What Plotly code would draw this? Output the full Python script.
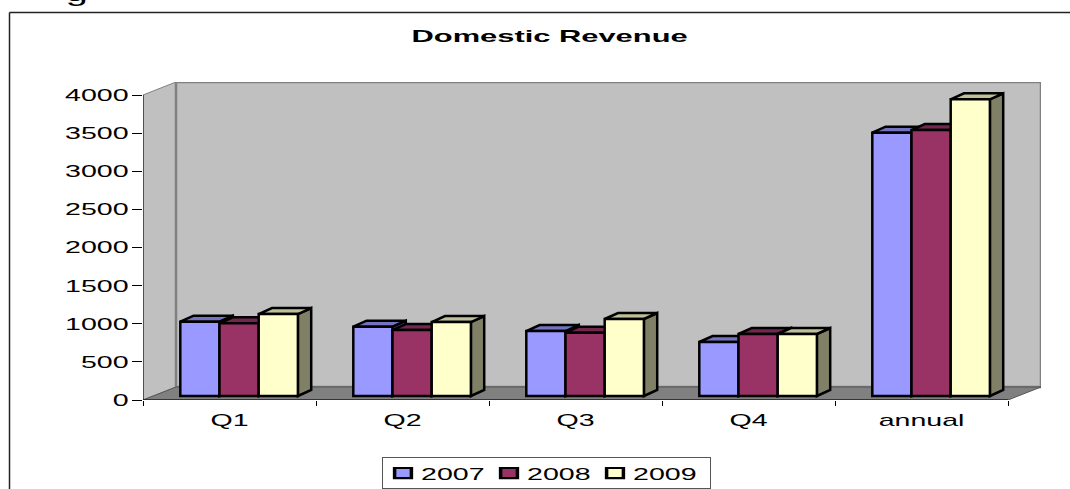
import plotly.graph_objects as go

categories = ["Q1", "Q2", "Q3", "Q4", "annual"]
years = ["2007", "2008", "2009"]
values_2007 = [974, 909, 852, 708, 3453]
values_2008 = [953, 865, 830, 813, 3488]
values_2009 = [1075, 970, 1010, 813, 3891]
y_ticks = [0, 500, 1000, 1500, 2000, 2500, 3000, 3500, 4000]
title_text = "Domestic Revenue"

front_colors = ["#9999FF", "#993366", "#FFFFCC"]
top_colors = ["#7373BF", "#732650", "#BFBF99"]
side_colors = ["#4D4D80", "#4D1933", "#808066"]

W, H = 1070, 489
L, R, T, B = 143, 29, 82, 89
PX_PER_CAT = 173.0
PX_PER_UNIT = 305.0 / 4000.0
plot_w = W - L - R
plot_h = H - T - B

WALL_DX = 33 / PX_PER_CAT
WALL_DY = 13 / PX_PER_UNIT
BAR_W = 39.2 / PX_PER_CAT
BAR_DX = 13.3 / PX_PER_CAT
BAR_DY = 6 / PX_PER_UNIT
BAR_BASE = 4 / PX_PER_UNIT
GROUP_SHIFT = 9.6 / PX_PER_CAT
N = len(categories)
series = [values_2007, values_2008, values_2009]
centers = [i + 0.5 + GROUP_SHIFT for i in range(N)]


def poly(points, fill, line_color, width):
    path = "M" + " L".join(f"{x:.4f},{y:.2f}" for x, y in points) + " Z"
    return dict(type="path", xref="x", yref="y", path=path, fillcolor=fill,
                line=dict(color=line_color, width=width), layer="below")


shapes = []
GRAY = "#808080"
ymax = y_ticks[-1]
shapes.append(poly([(0, 0), (WALL_DX, WALL_DY), (WALL_DX, ymax + WALL_DY), (0, ymax)], "#C0C0C0", GRAY, 1))
shapes.append(poly([(WALL_DX, WALL_DY), (N + WALL_DX, WALL_DY), (N + WALL_DX, ymax + WALL_DY), (WALL_DX, ymax + WALL_DY)], "#C0C0C0", GRAY, 2.5))
shapes.append(poly([(0, 0), (N, 0), (N + WALL_DX, WALL_DY), (WALL_DX, WALL_DY)], GRAY, "#555555", 1))

# depth faces of the bars, painted back to front under the front faces
for s, vals in enumerate(series):
    for c, v in zip(centers, vals):
        x0 = c + (s - 1.5) * BAR_W
        x1 = x0 + BAR_W
        top = BAR_BASE + v
        shapes.append(poly([(x1, BAR_BASE), (x1 + BAR_DX, BAR_BASE + BAR_DY), (x1 + BAR_DX, top + BAR_DY), (x1, top)],
                           side_colors[s], "black", 2.5))
        shapes.append(poly([(x0, top), (x1, top), (x1 + BAR_DX, top + BAR_DY), (x0 + BAR_DX, top + BAR_DY)],
                           top_colors[s], "black", 2.5))

# axis lines
shapes.append(dict(type="line", xref="x", yref="y", x0=0, x1=0, y0=0, y1=ymax, line=dict(color="black", width=1)))
shapes.append(dict(type="line", xref="x", yref="y", x0=0, x1=N, y0=0, y1=0, line=dict(color="black", width=1)))

# chart-area frame (top and left edges)
def px(x):
    return (x - L) / plot_w
def py(y):
    return (H - B - y) / plot_h
shapes.append(dict(type="line", xref="paper", yref="paper", x0=px(9.5), x1=px(W), y0=py(12.5), y1=py(12.5), line=dict(color="#222222", width=1.5)))
shapes.append(dict(type="line", xref="paper", yref="paper", x0=px(9.5), x1=px(9.5), y0=py(12.5), y1=py(H), line=dict(color="#222222", width=1.5)))

fig = go.Figure()
for s, vals in enumerate(series):
    fig.add_trace(go.Bar(
        x=centers, y=vals, base=BAR_BASE, name=years[s],
        marker=dict(color=front_colors[s], line=dict(color="black", width=2.5)),
        hoverinfo="skip",
    ))

FONT = "Liberation Sans, Arial, sans-serif"
fig.update_layout(
    width=W, height=H,
    margin=dict(l=L, r=R, t=T, b=B, pad=0, autoexpand=False),
    paper_bgcolor="white", plot_bgcolor="white",
    barmode="group", bargap=1 - 3 * BAR_W, bargroupgap=0,
    shapes=shapes,
    font=dict(family=FONT, size=17, color="black"),
    xaxis=dict(
        range=[0, N + WALL_DX], showgrid=False, zeroline=False, showline=False,
        tickmode="array", tickvals=[i + 0.5 for i in range(N)], ticktext=categories,
        ticks="", ticklabelstandoff=8,
        minor=dict(tickmode="array", tickvals=list(range(N + 1)), ticks="outside", ticklen=5, tickcolor="black", tickwidth=1, showgrid=False),
    ),
    yaxis=dict(
        range=[0, ymax + WALL_DY], showgrid=False, zeroline=False, showline=False,
        tickmode="array", tickvals=y_ticks, ticks="outside", ticklen=10, tickcolor="black", tickwidth=1,
    ),
    legend=dict(
        orientation="h", x=px(382), xanchor="left", y=py(457), yanchor="top",
        bordercolor="#555555", borderwidth=1, bgcolor="white",
        entrywidth=61, entrywidthmode="pixels", font=dict(size=17),
        traceorder="normal",
    ),
    annotations=[
        dict(text=f"<b>{title_text}</b>", xref="paper", yref="paper", x=px(549), y=py(36),
             xanchor="center", yanchor="middle", showarrow=False, font=dict(size=16)),
        dict(text="g", xref="paper", yref="paper", x=px(76), y=py(-8), xanchor="center", yanchor="middle",
             showarrow=False, font=dict(size=24)),
    ],
)

post = """
document.documentElement.style.margin='0';document.body.style.margin='0';
var gd=document.getElementById('{plot_id}');
function stretch(){
  gd.querySelectorAll('svg text').forEach(function(t){
    if(t.getAttribute('data-st'))return;
    var bold=t.querySelector('b, tspan[style*="bold"]');
    var legend=(t.getAttribute('class')||'').indexOf('legendtext')>=0;
    var s=bold?1.93:1.68;
    var x=parseFloat(t.getAttribute('x')||0);
    var e=t.getAttribute('transform')||'';
    t.setAttribute('transform',e+' translate('+(legend?x-2:x)+','+(legend?-2.5:0)+') scale('+s+',1) translate('+(-x)+',0)');
    t.setAttribute('data-st','1');
  });
  gd.querySelectorAll('.legendpoints path').forEach(function(p){
    if(p.getAttribute('data-st'))return;
    p.setAttribute('transform',(p.getAttribute('transform')||'')+' translate(0,-2.5) scale(1.4,0.85)');
    p.setAttribute('data-st','1');
  });
  gd.querySelectorAll('.legend rect.bg').forEach(function(r){
    r.setAttribute('width','328');r.setAttribute('height','31');
  });
}
stretch();
if(gd.on)gd.on('plotly_afterplot',stretch);
"""
fig.write_html("out.html", post_script=post, config=dict(displayModeBar=False))
